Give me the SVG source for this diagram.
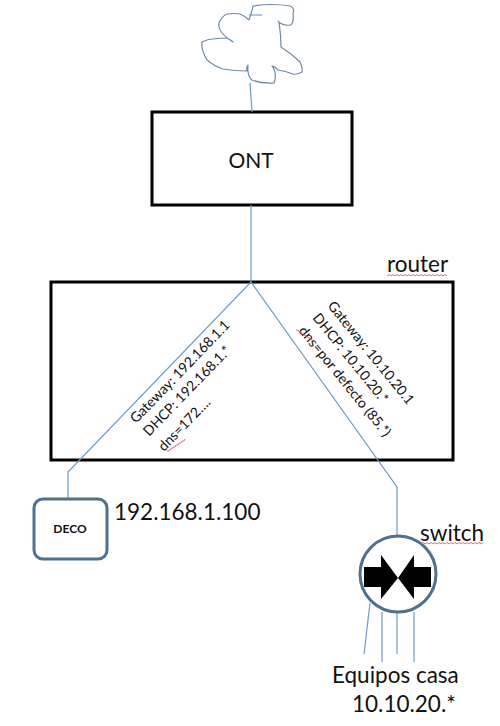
<svg xmlns="http://www.w3.org/2000/svg" width="500" height="726" viewBox="0 0 500 726">
<style>
text{font-family:Lato,"Open Sans","Liberation Sans",sans-serif;fill:#111}
.box{fill:#fff;stroke:#000;stroke-width:3}
.ln{fill:none;stroke:#6f9cc4;stroke-width:1.2}
.sq{fill:none;stroke:#d9606a;stroke-width:.9}
.rot{font-size:14px}
.lab{font-size:22.500px}
</style>
<rect width="500" height="726" fill="#fff"/>
<g id="ont"><rect class="box" x="152" y="112" width="200" height="93"/><text x="251" y="168" font-size="21" text-anchor="middle">ONT</text></g>
<g id="router"><rect class="box" x="51" y="282" width="402" height="178"/><text class="lab" x="387" y="272">router</text><path class="sq" d="M387 276l2-1.500 2 1.500 2-1.500 2 1.500 2-1.500 2 1.500 2-1.500 2 1.500 2-1.500 2 1.500 2-1.500 2 1.500 2-1.500 2 1.500 2-1.500 2 1.500 2-1.500 2 1.500 2-1.500 2 1.500 2-1.500 2 1.500 2-1.500 2 1.500 2-1.500 2 1.500 2-1.500 2 1.500 2-1.500 2 1.500"/></g>
<g id="connectors">
<path class="ln" d="M250 83L252 112M251 205V282L68 472V499M251 282L397 487V537"/>
<path class="ln" d="M370 603L364 654M382 612V662M397 613V654M414 612V662"/>
</g>
<g id="internet"><path d="M249 20Q252 12 253 6Q272 3 290 6Q295 8 293 14Q294 22 291 25Q284 26 280 23Q277 20 279 22Q281 35 281 47Q292 54 300 62Q303 68 302 72Q296 75 293 74Q285 71 278 70Q274 66 272 66Q274 68 275 72Q276 78 274 83Q262 84 252 80Q247 76 248 65Q246 68 247 71Q234 71 223 69Q214 66 207 60Q201 50 202 42Q208 39 213 39Q222 38 227 38Q231 40 233 42Q226 38 222 33Q218 28 219 23Q221 17 227 14Q234 13 240 14Q245 16 249 20M249 15L262 15" fill="none" stroke="#6f8ba8" stroke-width="1.200" stroke-linejoin="round"/></g>
<g id="gw-left">
<text class="rot" transform="translate(136 424) rotate(-46)">Gateway: 192.168.1.1</text>
<text class="rot" transform="translate(149 437) rotate(-46)">DHCP: 192.168.1.*</text>
<text class="rot" transform="translate(164 452) rotate(-46)">dns=172….</text>
<path class="sq" d="M167 451l2 0 1-2 2 0 1-2 2 0 1-2 2 0 1-2 2 0 1-2 2 0 1-2"/>
</g>
<g id="gw-right">
<text class="rot" transform="translate(327 306) rotate(51)">Gateway: 10.10.20.1</text>
<text class="rot" transform="translate(312 318) rotate(51)">DHCP: 10.10.20.*</text>
<text class="rot" transform="translate(298 331) rotate(51)">dns=por defecto (85.*)</text>
<path class="sq" d="M296 330l2 0 1 2 2 0 1 2 2 0 1 2 2 0 1 2 2 0 1 2 2 0 1 2"/>
</g>
<g id="deco"><rect x="34" y="499" width="73" height="60" rx="9" fill="#fff" stroke="#4f7190" stroke-width="3"/><text x="70" y="533" font-size="12" font-weight="700" text-anchor="middle">DECO</text><text class="lab" x="114" y="520">192.168.1.100</text></g>
<g id="switch"><circle cx="398" cy="574" r="38" fill="#fff" stroke="#4f7190" stroke-width="3"/>
<path fill="#000" d="M364 567H381V555L398 578L381 599V587H364ZM431 567H414V555L398 578L414 599V587H431Z"/>
<text class="lab" x="420" y="541">switch</text><path class="sq" d="M421 544l2-1.500 2 1.500 2-1.500 2 1.500 2-1.500 2 1.500 2-1.500 2 1.500 2-1.500 2 1.500 2-1.500 2 1.500 2-1.500 2 1.500 2-1.500 2 1.500 2-1.500 2 1.500 2-1.500 2 1.500 2-1.500 2 1.500 2-1.500 2 1.500 2-1.500 2 1.500 2-1.500 2 1.500 2-1.500 2 1.500 2-1.500"/></g>
<g id="equipos"><text class="lab" x="332" y="683">Equipos casa</text><text class="lab" x="352" y="712">10.10.20.*</text></g>
</svg>
